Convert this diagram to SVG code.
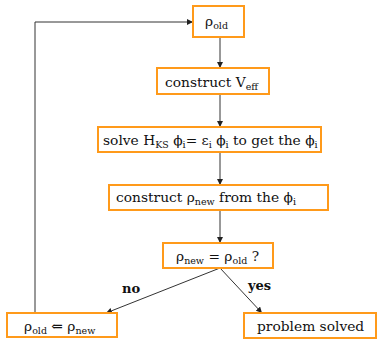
<svg xmlns="http://www.w3.org/2000/svg" width="378" height="341" viewBox="0 0 378 341">
<defs>
<marker id="ah" viewBox="0 0 8 8" refX="8" refY="4" markerWidth="6" markerHeight="6" orient="auto" markerUnits="userSpaceOnUse">
<path d="M0,0 L8,4 L0,8 z" fill="#222"/>
</marker>
<style>
.box{fill:#fff;stroke:#FF9A1A;stroke-width:2}
.t{font-family:"DejaVu Serif","Liberation Serif",serif;font-size:13.8px;fill:#111}
.s{font-size:9.5px}
.lbl{font-family:"DejaVu Serif","Liberation Serif",serif;font-size:13px;font-weight:bold;fill:#111}
.c{fill:none;stroke:#333;stroke-width:1;marker-end:url(#ah)}
</style>
</defs>
<rect width="378" height="341" fill="#fff"/>
<g id="connectors">
<path class="c" d="M220,37 V68"/>
<path class="c" d="M220,94 V127"/>
<path class="c" d="M220,152 V185"/>
<path class="c" d="M220,210 V243"/>
<path class="c" d="M220,268 L262,313"/>
<path class="c" d="M220,268 L106,313"/>
<path class="c" d="M35,313 V22 H193"/>
</g>
<g id="label-no"><text class="lbl" x="122" y="293">no</text></g>
<g id="label-yes"><text class="lbl" x="248" y="290">yes</text></g>
<g id="n1">
<rect class="box" x="193" y="6" width="51" height="31"/>
<text class="t" x="205" y="26">ρ<tspan class="s" dy="3">old</tspan></text>
</g>
<g id="n2">
<rect class="box" x="157" y="68" width="112" height="26"/>
<text class="t" x="165" y="87">construct V<tspan class="s" dy="3">eff</tspan></text>
</g>
<g id="n3">
<rect class="box" x="98" y="127" width="223" height="25"/>
<text class="t" x="103" y="145">solve H<tspan class="s" dy="3">KS</tspan><tspan dy="-3"> ϕ</tspan><tspan class="s" dy="3">i</tspan><tspan dy="-3">= ε</tspan><tspan class="s" dy="3">i</tspan><tspan dy="-3"> ϕ</tspan><tspan class="s" dy="3">i</tspan><tspan dy="-3"> to get the ϕ</tspan><tspan class="s" dy="3">i</tspan></text>
</g>
<g id="n4">
<rect class="box" x="109" y="185" width="219" height="25"/>
<text class="t" x="116" y="202">construct ρ<tspan class="s" dy="3">new</tspan><tspan dy="-3"> from the ϕ</tspan><tspan class="s" dy="3">i</tspan></text>
</g>
<g id="n5">
<rect class="box" x="163" y="243" width="110" height="25"/>
<text class="t" x="176" y="261">ρ<tspan class="s" dy="3">new</tspan><tspan dy="-3"> = ρ</tspan><tspan class="s" dy="3">old</tspan><tspan dy="-3"> ?</tspan></text>
</g>
<g id="n6">
<rect class="box" x="244" y="313" width="132" height="25"/>
<text class="t" x="257" y="331">problem solved</text>
</g>
<g id="n7">
<rect class="box" x="7" y="313" width="110" height="24"/>
<text class="t" x="24" y="331">ρ<tspan class="s" dy="3">old</tspan><tspan dy="-3"> ⇐ ρ</tspan><tspan class="s" dy="3">new</tspan></text>
</g>
</svg>
